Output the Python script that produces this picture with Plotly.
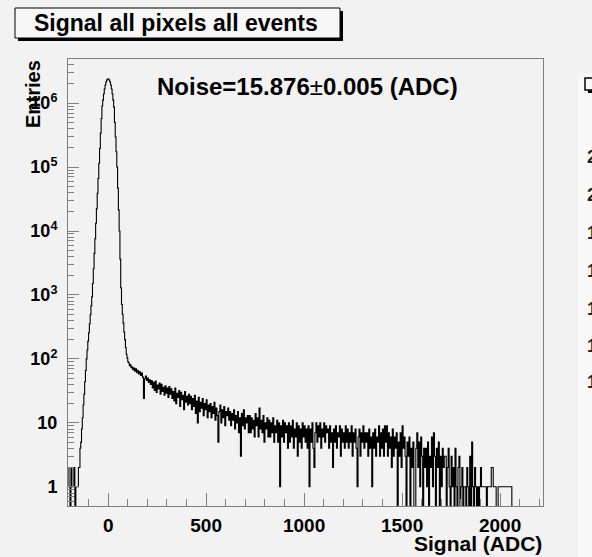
import numpy as np
import plotly.graph_objects as go

# ---------------- data ----------------
left_start, left_width = -205, 5
left_counts = [2, 1, 0, 2, 1, 1, 2, 0, 1]

peak_start, peak_width = -160, 4
peak_counts = [
    1, 1, 2, 2, 4, 5, 8, 12, 19, 28,
    44, 66, 100, 138, 190, 257, 355, 490, 676, 933,
    1510, 2570, 4470, 7590, 13200, 22400, 38900, 66100, 115000, 195000,
    339000, 575000, 900000, 1115000, 1386000, 1660000, 1920000, 2140000, 2300000, 2390000,
    2390000, 2300000, 2140000, 1920000, 1660000, 1386000, 1115000, 865000, 500000, 295000,
    174000, 100000, 46800, 21400, 10000, 3630, 1290, 708, 500, 363,
    263, 200, 151, 118, 103, 90, 87, 78, 82, 73,
]

tail_start, tail_width = 120, 5
tail_counts = [
    75, 68, 72, 64, 70, 61, 66, 58, 63, 55, 60, 52, 24, 49, 54, 46, 50, 43, 47, 40,
    46, 35, 43, 32, 45, 30, 39, 34, 42, 28, 40, 31, 36, 27, 38, 29, 35, 25, 37, 28,
    34, 24, 31, 22, 35, 20, 29, 25, 32, 18, 30, 23, 27, 16, 31, 21, 26, 19, 28, 20,
    26, 16, 24, 18, 27, 14, 22, 10, 25, 15, 21, 17, 24, 13, 20, 16, 23, 12, 19, 15,
    20, 12, 18, 14, 21, 11, 17, 13, 5, 15, 19, 10, 16, 12, 18, 9, 15, 13, 17, 11,
    15, 9, 14, 11, 16, 8, 13, 10, 15, 7, 12, 3, 14, 9, 16, 8, 12, 10, 13, 7,
    13, 7, 12, 8, 11, 6, 14, 9, 12, 6, 17, 8, 11, 7, 13, 5, 10, 8, 12, 6,
    11, 6, 10, 7, 12, 5, 9, 7, 11, 5, 10, 1, 9, 6, 11, 5, 10, 7, 9, 4,
    10, 5, 9, 6, 11, 4, 8, 6, 10, 3, 9, 5, 8, 4, 10, 6, 9, 5, 8, 4,
    9, 1, 8, 5, 10, 4, 2, 7, 10, 5, 9, 6, 10, 4, 8, 6, 10, 5, 9, 7,
    8, 4, 9, 5, 7, 2, 8, 5, 9, 4, 7, 6, 9, 3, 8, 5, 7, 4, 9, 5,
    8, 4, 7, 5, 9, 3, 7, 5, 8, 4, 1, 6, 8, 3, 7, 5, 9, 4, 7, 5,
    7, 3, 8, 4, 6, 1, 7, 4, 8, 3, 6, 5, 9, 3, 7, 4, 8, 3, 9, 5,
    9, 3, 7, 4, 6, 2, 8, 3, 6, 4, 7, 0, 5, 3, 7, 2, 9, 4, 6, 3,
    0, 5, 3, 6, 0, 4, 2, 5, 0, 0, 4, 7, 2, 5, 1, 6, 3, 0, 4, 2,
    4, 1, 5, 0, 3, 2, 6, 1, 7, 3, 0, 4, 2, 5, 0, 3, 1, 4, 2, 3,
    3, 0, 2, 4, 1, 0, 3, 1, 2, 0, 4, 1, 0, 2, 3, 0, 1, 2, 0, 1,
    1, 0, 2, 1, 0, 3, 0, 5, 1, 0, 2, 1, 0, 1, 0, 1, 2, 1, 1, 1,
    1, 1, 0, 1, 1, 1, 1, 2, 2, 1, 1, 1, 0, 0, 1, 1, 1, 1, 1, 1,
    1, 1, 1, 1, 1, 1, 1, 1, 0, 0, 0, 0, 0, 0, 0, 0, 0, 0, 0, 0,
    0, 0, 0, 0, 0, 0, 0, 0, 0, 0, 0, 0, 0, 0, 0, 0, 0, 0, 0, 0,
]

x_ticks = [0, 500, 1000, 1500, 2000]
y_ticks = [1, 10, 100, 1000, 10000, 100000, 1000000]
y_ticktext = ["1", "10", "10<sup>2</sup>", "10<sup>3</sup>", "10<sup>4</sup>",
              "10<sup>5</sup>", "10<sup>6</sup>"]

title_text = "Signal all pixels all events"
noise_text = "<b>Noise=15.876</b>±<b>0.005 (ADC)</b>"
x_title = "Signal (ADC)"
y_title = "Entries"
side_chars = ["2", "2", "1", "1", "1", "1", "1"]

# ---------------- build step histogram ----------------
edges = np.concatenate([
    left_start + left_width * np.arange(len(left_counts)),
    peak_start + peak_width * np.arange(len(peak_counts)),
    tail_start + tail_width * np.arange(len(tail_counts)),
])
counts = np.array(left_counts + peak_counts + tail_counts, dtype=float)
last_edge = tail_start + tail_width * len(tail_counts)
x_step = np.append(edges, last_edge)
y_step = np.append(counts, counts[-1])
y_step = np.where(y_step > 0, y_step, 0.1)  # empty bins drop below the frame (log axis)

W, H = 592, 557
L, R, T, B = 68, 49, 59, 51
PW, PH = W - L - R, H - T - B

def px(x):
    return (x - L) / PW

def py(y):
    return (H - B - y) / PH

BG = "#f2f2f2"
FRAME = "#808080"
FONT = "Liberation Sans, Arial, sans-serif"

fig = go.Figure()
fig.add_trace(go.Scatter(x=x_step, y=y_step, mode="lines",
                         line=dict(shape="hv", color="black", width=1.1),
                         hoverinfo="skip", showlegend=False))

minor_y = [k * 10 ** n for n in range(-1, 7) for k in range(2, 10)]

fig.update_layout(
    width=W, height=H,
    margin=dict(l=L, r=R, t=T, b=B, pad=0),
    paper_bgcolor=BG, plot_bgcolor=BG,
    showlegend=False,
    xaxis=dict(range=[-205, 2219], tickvals=x_ticks, ticks="inside", ticklen=13,
               tickcolor=FRAME, tickwidth=1,
               minor=dict(dtick=100, tick0=0, ticks="inside", ticklen=7, tickcolor=FRAME, showgrid=False),
               showgrid=False, zeroline=False, showline=True, mirror=True,
               linecolor=FRAME, linewidth=1, ticklabelstandoff=2,
               tickfont=dict(family=FONT, size=19, color="black", weight="bold")),
    yaxis=dict(type="log", range=[-0.30, 6.69], tickvals=y_ticks, ticktext=y_ticktext,
               ticks="inside", ticklen=11, tickcolor=FRAME, tickwidth=1,
               minor=dict(tickvals=minor_y, ticks="inside", ticklen=6, tickcolor=FRAME, showgrid=False),
               showgrid=False, zeroline=False, showline=True, mirror=True,
               linecolor=FRAME, linewidth=1, ticklabelstandoff=6,
               tickfont=dict(family=FONT, size=18, color="black", weight="bold")),
)

shapes = [
    # title box shadow + box
    dict(type="rect", xref="paper", yref="paper", x0=px(18), x1=px(343), y0=py(41), y1=py(11),
         fillcolor="black", line=dict(width=0), layer="above"),
    dict(type="rect", xref="paper", yref="paper", x0=px(15), x1=px(340), y0=py(38), y1=py(8),
         fillcolor="#f7f7f7", line=dict(color="black", width=1), layer="above"),
    # neighbouring panel at the right edge
    dict(type="rect", xref="paper", yref="paper", x0=px(578), x1=px(600), y0=py(560), y1=py(73),
         fillcolor="#f8f8f8", line=dict(width=0), layer="above"),
    dict(type="rect", xref="paper", yref="paper", x0=px(588), x1=px(605), y0=py(93), y1=py(81),
         fillcolor="black", line=dict(width=0), layer="above"),
    dict(type="rect", xref="paper", yref="paper", x0=px(585), x1=px(602), y0=py(90), y1=py(78),
         fillcolor="#f8f8f8", line=dict(color="black", width=1.5), layer="above"),
]
fig.update_layout(shapes=shapes)

ann = [
    dict(text="<b>" + title_text + "</b>", x=px(176), y=py(23), xanchor="center", yanchor="middle",
         font=dict(family=FONT, size=23, color="black")),
    dict(text=noise_text, x=px(307), y=py(86), xanchor="center", yanchor="middle",
         font=dict(family=FONT, size=24, color="black")),
    dict(text="<b>" + x_title + "</b>", x=px(544), y=py(543), xanchor="right", yanchor="middle",
         font=dict(family=FONT, size=21, color="black")),
    dict(text="<b>" + y_title + "</b>", x=px(33), y=py(94), xanchor="center", yanchor="middle",
         textangle=-90, font=dict(family=FONT, size=20, color="black")),
]
side_y = [157, 195, 233, 271, 309, 346, 382]
for ch, yy in zip(side_chars, side_y):
    ann.append(dict(text="<b>" + ch + "</b>", x=px(585), y=py(yy), xanchor="left", yanchor="middle",
                    font=dict(family=FONT, size=18, color="#222")))
for a in ann:
    a.update(xref="paper", yref="paper", showarrow=False)
fig.update_layout(annotations=ann)

fig.write_html("out.html", config={"displayModeBar": False},
               post_script="document.body.style.margin='0';document.body.style.padding='0';")
